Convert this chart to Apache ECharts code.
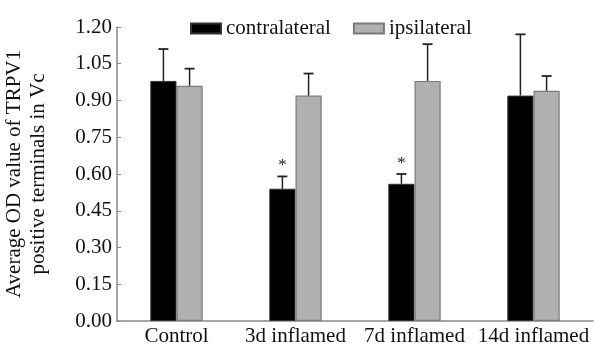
<!DOCTYPE html>
<html><head><meta charset="utf-8">
<script src="https://cdn.jsdelivr.net/npm/echarts@6/dist/echarts.min.js"></script>
<style>html,body{margin:0;padding:0;background:#fff}#c{width:595px;height:347px}</style>
</head><body><div id="c"></div>
<script>
var categories = ['Control', '3d inflamed', '7d inflamed', '14d inflamed'];
var contraValues = [0.98, 0.54, 0.56, 0.92];
var contraErrTop = [1.11, 0.59, 0.60, 1.17];
var ipsiValues = [0.96, 0.92, 0.98, 0.94];
var ipsiErrTop = [1.03, 1.01, 1.13, 1.00];
var contraStar = [false, true, true, false];
var yTicks = [0, 0.15, 0.30, 0.45, 0.60, 0.75, 0.90, 1.05, 1.20];

var FONT = 'Liberation Serif';
var FS = 21;
var BARPCT = 0.22;
function errSeries(name, tops, vals, side, stars) {
  return {
    type: 'custom', name: name + ' err', silent: true, z: 5,
    data: categories.map(function (c, i) { return [i, vals[i], tops[i], stars ? (stars[i] ? 1 : 0) : 0]; }),
    renderItem: function (params, api) {
      var band = api.size([1, 0])[0];
      var off = side * band * BARPCT / 2;
      var b = api.coord([api.value(0), api.value(1)]);
      var t = api.coord([api.value(0), api.value(2)]);
      var x = b[0] + off;
      var children = [
        { type: 'line', shape: { x1: x, y1: b[1], x2: x, y2: t[1] }, style: { stroke: '#222', lineWidth: 1.5 } },
        { type: 'line', shape: { x1: x - 5, y1: t[1], x2: x + 5, y2: t[1] }, style: { stroke: '#222', lineWidth: 1.8 } }
      ];
      if (api.value(3)) {
        children.push({ type: 'text', style: { text: '*', x: x, y: t[1] - 2, align: 'center', verticalAlign: 'bottom', font: '17px ' + FONT, fill: '#222' } });
      }
      return { type: 'group', children: children };
    }
  };
}

var chart = echarts.init(document.getElementById('c'), null, { renderer: 'canvas' });
chart.setOption({
  animation: false,
  textStyle: { fontFamily: FONT },
  legend: {
    data: [{ name: 'contralateral', icon: 'rect' }, { name: 'ipsilateral', icon: 'rect' }], left: 185, top: 13,
    itemWidth: 30, itemHeight: 10, itemGap: 22,
    textStyle: { fontFamily: FONT, fontSize: FS, color: '#111' },
    selectedMode: false
  },
  grid: { left: 117, right: 2, top: 27, bottom: 26, containLabel: false, outerBoundsMode: 'none' },
  xAxis: {
    type: 'category', data: categories,
    axisLine: { lineStyle: { color: '#888', width: 1.5 } },
    axisTick: { show: false },
    axisLabel: { fontFamily: FONT, fontSize: FS, color: '#111', margin: 5, interval: 0 }
  },
  yAxis: {
    type: 'value', min: 0, max: 1.2, interval: 0.15,
    name: 'Average OD value of TRPV1\npositive terminals in Vc',
    nameLocation: 'middle', nameGap: 67, nameRotate: 90,
    nameTextStyle: { fontFamily: FONT, fontSize: FS, color: '#111', lineHeight: 24 },
    axisLine: { show: true, lineStyle: { color: '#888', width: 1.5 } },
    axisTick: { show: true, inside: true, length: 4, lineStyle: { color: '#888' } },
    splitLine: { show: false },
    axisLabel: { fontFamily: FONT, fontSize: FS, color: '#111', margin: 5,
      formatter: function (v) { return v.toFixed(2); } }
  },
  series: [
    { name: 'contralateral', type: 'bar', data: contraValues, barWidth: (BARPCT * 100) + '%', barGap: '0%',
      itemStyle: { color: '#000', borderColor: '#333', borderWidth: 1 } },
    { name: 'ipsilateral', type: 'bar', data: ipsiValues, barWidth: (BARPCT * 100) + '%', barGap: '0%',
      itemStyle: { color: '#b0b0b0', borderColor: '#7a7a7a', borderWidth: 1.2 } },
    errSeries('contralateral', contraErrTop, contraValues, -1, contraStar),
    errSeries('ipsilateral', ipsiErrTop, ipsiValues, 1, null)
  ]
});
</script></body></html>
